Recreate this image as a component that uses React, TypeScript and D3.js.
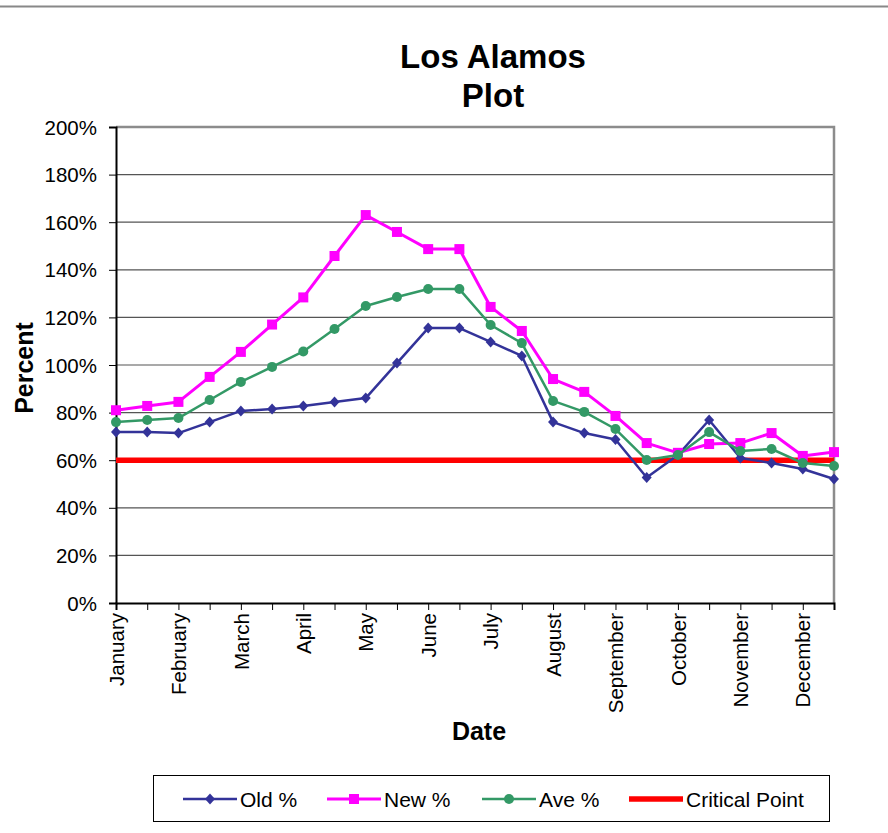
import React, { useEffect, useRef } from 'react';
import * as d3 from 'd3';

// half-month sample points, labels on every other tick
const months = ['January', 'February', 'March', 'April', 'May', 'June', 'July', 'August', 'September', 'October', 'November', 'December'];
const oldPct = [71.8, 71.8, 71.4, 76, 80.7, 81.5, 82.8, 84.5, 86.1, 100.8, 115.5, 115.5, 109.7, 103.8, 76, 71.4, 68.7, 52.7, 62.2, 76.9, 60.9, 58.8, 56.3, 52.1];
const newPct = [81, 82.8, 84.5, 95, 105.5, 117, 128.4, 145.8, 163, 155.9, 148.7, 148.7, 124.4, 114.3, 94.1, 88.7, 78.6, 67.2, 63.1, 66.8, 67.2, 71.4, 61.8, 63.4];
const avePct = [76, 76.9, 77.7, 85.3, 92.9, 99.2, 105.7, 115.1, 124.8, 128.6, 131.9, 131.9, 116.8, 109.2, 84.9, 80.3, 73.1, 60.1, 62.2, 71.8, 63.9, 64.7, 58.8, 57.6];
const criticalPct = 60;
const yTicks = [0, 20, 40, 60, 80, 100, 120, 140, 160, 180, 200];

const FONT = 'Arial, "Liberation Sans", sans-serif';

export default function App() {
  const ref = useRef<SVGSVGElement>(null);

  useEffect(() => {
    const svg = d3.select(ref.current);
    svg.selectAll('*').remove();

    const left = 116, right = 834, top = 127, bottom = 603;
    const idx = d3.range(oldPct.length);
    const x = d3.scalePoint<number>().domain(idx).range([left, right]);
    const y = d3.scaleLinear().domain([0, 200]).range([bottom, top]);

    // top rule of the sheet
    svg.append('line').attr('x1', 0).attr('x2', 888).attr('y1', 6.5).attr('y2', 6.5)
      .attr('stroke', '#888').attr('stroke-width', 2);

    // title
    const title = svg.append('text').attr('text-anchor', 'middle')
      .style('font-family', FONT).style('font-weight', 'bold').style('font-size', '33px');
    title.append('tspan').attr('x', 493).attr('y', 68).text('Los Alamos');
    title.append('tspan').attr('x', 493).attr('y', 107).text('Plot');

    // gridlines
    svg.append('g').selectAll('line').data(yTicks.filter(t => t > 0 && t < 200)).enter()
      .append('line')
      .attr('x1', left).attr('x2', right)
      .attr('y1', d => y(d)).attr('y2', d => y(d))
      .attr('stroke', '#555').attr('stroke-width', 1.2);

    // plot frame: top & right grey
    svg.append('path')
      .attr('d', `M${left},${top}H${right}V${bottom}`)
      .attr('fill', 'none').attr('stroke', '#8c8c8c').attr('stroke-width', 2.5);

    // y axis
    const yAxis = svg.append('g').attr('transform', `translate(${left},0)`)
      .call(d3.axisLeft(y).tickValues(yTicks).tickSize(7).tickFormat(d => `${d}%`));
    yAxis.select('.domain').attr('stroke', '#000').attr('stroke-width', 2);
    yAxis.selectAll('.tick line').attr('stroke', '#000').attr('stroke-width', 1);
    yAxis.selectAll('.tick text').attr('x', -19).attr('dy', '0.35em')
      .style('font-family', FONT).style('font-size', '20.5px').attr('fill', '#000');

    // x axis
    const xAxis = svg.append('g').attr('transform', `translate(0,${bottom})`)
      .call(d3.axisBottom(x).tickSize(7).tickFormat(d => (d % 2 === 0 ? months[d / 2] : '')));
    xAxis.select('.domain').attr('stroke', '#000').attr('stroke-width', 2);
    xAxis.selectAll('.tick line').attr('stroke', '#000').attr('stroke-width', 1);
    xAxis.selectAll('.tick text')
      .attr('transform', 'rotate(-90)')
      .attr('x', -10).attr('y', 0).attr('dy', '0.35em')
      .attr('text-anchor', 'end')
      .style('font-family', FONT).style('font-size', '20.5px').attr('fill', '#000');

    // axis titles
    svg.append('text').attr('transform', 'translate(33,368) rotate(-90)')
      .attr('text-anchor', 'middle')
      .style('font-family', FONT).style('font-weight', 'bold').style('font-size', '25px')
      .text('Percent');
    svg.append('text').attr('x', 479).attr('y', 740).attr('text-anchor', 'middle')
      .style('font-family', FONT).style('font-weight', 'bold').style('font-size', '25px')
      .text('Date');

    // critical point line
    svg.append('line')
      .attr('x1', left).attr('x2', right)
      .attr('y1', y(criticalPct)).attr('y2', y(criticalPct))
      .attr('stroke', '#ff0000').attr('stroke-width', 5.5);

    const line = d3.line<number>().x((_, i) => x(i) as number).y(d => y(d));

    const series = [
      { name: 'Old %', data: oldPct, color: '#333399', marker: 'diamond', w: 2.5 },
      { name: 'New %', data: newPct, color: '#ff00ff', marker: 'square', w: 3 },
      { name: 'Ave %', data: avePct, color: '#339966', marker: 'circle', w: 2.5 },
    ];

    const drawMarker = (g: any, type: string, cx: number, cy: number, color: string) => {
      if (type === 'diamond') {
        g.append('path').attr('d', `M${cx},${cy - 5.5}L${cx + 5},${cy}L${cx},${cy + 5.5}L${cx - 5},${cy}Z`)
          .attr('fill', color);
      } else if (type === 'square') {
        g.append('rect').attr('x', cx - 5).attr('y', cy - 5).attr('width', 10).attr('height', 10)
          .attr('fill', color);
      } else {
        g.append('circle').attr('cx', cx).attr('cy', cy).attr('r', 5).attr('fill', color);
      }
    };

    series.forEach(s => {
      const g = svg.append('g');
      g.append('path').datum(s.data).attr('d', line)
        .attr('fill', 'none').attr('stroke', s.color).attr('stroke-width', s.w)
        .attr('stroke-linejoin', 'round');
      s.data.forEach((d, i) => drawMarker(g, s.marker, x(i) as number, y(d), s.color));
    });

    // legend
    const lg = svg.append('g');
    lg.append('rect').attr('x', 153.5).attr('y', 775.5).attr('width', 676).attr('height', 46)
      .attr('fill', '#fff').attr('stroke', '#000').attr('stroke-width', 1);
    const items = [
      { name: 'Old %', color: '#333399', marker: 'diamond', x0: 183, w: 2.5 },
      { name: 'New %', color: '#ff00ff', marker: 'square', x0: 327, w: 3 },
      { name: 'Ave %', color: '#339966', marker: 'circle', x0: 482, w: 2.5 },
      { name: 'Critical Point', color: '#ff0000', marker: '', x0: 629, w: 5.5 },
    ];
    const ly = 799;
    items.forEach(it => {
      lg.append('line').attr('x1', it.x0).attr('x2', it.x0 + 54).attr('y1', ly).attr('y2', ly)
        .attr('stroke', it.color).attr('stroke-width', it.w);
      if (it.marker) drawMarker(lg, it.marker, it.x0 + 27, ly, it.color);
      lg.append('text').attr('x', it.x0 + 57).attr('y', ly).attr('dy', '0.36em')
        .style('font-family', FONT).style('font-size', '21px').text(it.name);
    });
  }, []);

  return (
    <div style={{ position: 'absolute', left: 0, top: 0 }}>
      <svg ref={ref} width={888} height={833} style={{ display: 'block', background: '#fff' }} />
    </div>
  );
}
